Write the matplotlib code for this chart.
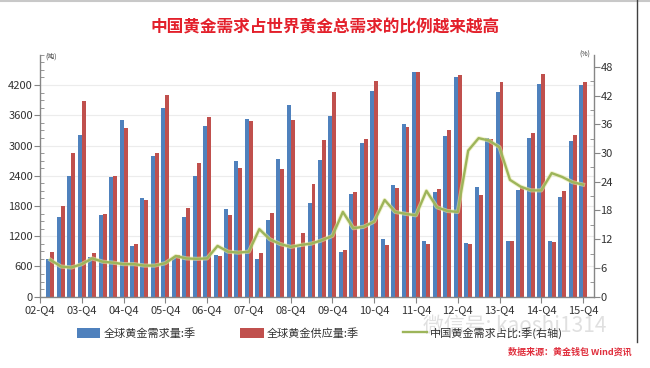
import matplotlib
matplotlib.use("Agg")
import matplotlib.pyplot as plt
import numpy as np
from matplotlib.lines import Line2D
from matplotlib.patches import Patch

plt.rcParams['font.family'] = ['Noto Sans CJK SC', 'DejaVu Sans']

# quarterly data 03Q1 .. 15Q4 (cumulative within each year)
demand = [750, 1590, 2400, 3210,
          780, 1620, 2380, 3500,
          1005, 1960, 2800, 3740,
          795, 1590, 2395, 3390,
          825, 1735, 2690, 3525,
          740, 1520, 2725, 3805,
          990, 1865, 2710, 3585,
          895, 2030, 3055, 4080,
          1145, 2215, 3425, 4465,
          1105, 2070, 3190, 4365,
          1060, 2180, 3145, 4065,
          1110, 2120, 3145, 4220,
          1105, 1985, 3095, 4200]
supply = [885, 1790, 2845, 3885,
          860, 1640, 2395, 3345,
          1045, 1920, 2850, 4000,
          825, 1755, 2645, 3570,
          810, 1620, 2560, 3490,
          860, 1665, 2535, 3505,
          1255, 2235, 3110, 4065,
          925, 2075, 3135, 4275,
          1025, 2165, 3360, 4465,
          1045, 2130, 3305, 4400,
          1045, 2020, 3130, 4255,
          1110, 2185, 3255, 4420,
          1085, 2105, 3210, 4255]
china_share = [7.7, 6.3, 6.1, 6.8,
               8.0, 7.3, 7.1, 6.8,
               6.8, 6.5, 6.5, 7.0,
               8.5, 8.0, 7.9, 8.0,
               10.6, 9.4, 9.2, 9.4,
               14.1, 12.0, 11.0, 10.4,
               10.8, 11.1, 11.8, 12.7,
               17.7, 14.3, 14.6, 15.7,
               20.2, 17.7, 17.3, 17.0,
               22.1, 18.7, 17.9, 17.7,
               30.5, 33.1, 32.6, 31.2,
               24.4, 23.0, 22.2, 22.2,
               25.8, 25.0, 23.9, 23.4]
year_labels = ['02-Q4', '03-Q4', '04-Q4', '05-Q4', '06-Q4', '07-Q4', '08-Q4',
               '09-Q4', '10-Q4', '11-Q4', '12-Q4', '13-Q4', '14-Q4', '15-Q4']

blue = '#4f81bd'
red = '#c0504d'
green = '#9db55a'
axis_gray = '#868686'

fig = plt.figure(figsize=(6.5, 3.68), dpi=100)
ax = fig.add_axes([40 / 650, 1 - 296.7 / 368, (593.5 - 40) / 650, (296.7 - 54.8) / 368])
ax2 = ax.twinx()

x = np.arange(len(demand))
w = 0.38
ax.bar(x - w / 2, demand, w, color=blue, zorder=2)
ax.bar(x + w / 2, supply, w, color=red, zorder=2)

# green line with a light yellow halo
ax2.plot(x, china_share, color='#e8e9a8', lw=3.0, alpha=0.6, solid_joinstyle='round', zorder=3)
ax2.plot(x, china_share, color=green, lw=1.7, solid_joinstyle='round', zorder=4)

ax.set_xlim(-1, 52)
ax.set_ylim(0, 4800)
ax2.set_ylim(0, 50.5)

ax.set_yticks(np.arange(0, 4201, 600))
ax.set_yticks(np.arange(0, 4801, 150), minor=True)
ax2.set_yticks(np.arange(0, 49, 6))
ax2.set_yticks(np.arange(0, 49, 3), minor=True)
ax.set_xticks(np.arange(-1, 52, 4))
ax.set_xticklabels(year_labels)

ax.grid(axis='y', color='#ececec', lw=0.8, zorder=0)
ax.set_axisbelow(True)

for a in (ax, ax2):
    a.spines['top'].set_visible(False)
    for s in ('left', 'right', 'bottom'):
        a.spines[s].set_color(axis_gray)
        a.spines[s].set_linewidth(1.0)
ax.spines['right'].set_visible(False)
ax2.spines['left'].set_visible(False)
ax2.spines['bottom'].set_visible(False)

ax.tick_params(axis='y', which='major', direction='out', length=4, color=axis_gray,
               labelsize=8, labelcolor='#333333', pad=1)
ax.tick_params(axis='y', which='minor', direction='in', length=3, color=axis_gray)
ax.tick_params(axis='x', direction='out', length=4, color=axis_gray,
               labelsize=8, labelcolor='#333333', pad=2)
ax2.tick_params(axis='y', which='major', direction='out', length=4, color=axis_gray,
                labelsize=8, labelcolor='#333333', pad=1)
ax2.tick_params(axis='y', which='minor', direction='in', length=3, color=axis_gray)

fig.text(45 / 650, 1 - 57 / 368, '(吨)', fontsize=5, color='#333333', va='center')
fig.text(590 / 650, 1 - 55 / 368, '(%)', fontsize=5, color='#333333', va='center', ha='right')

fig.text(0.5, 1 - 28 / 368, '中国黄金需求占世界黄金总需求的比例越来越高',
         ha='center', va='center', fontsize=12, fontweight='bold', color='#e3202b')

# faint watermark, partly behind the legend as in the source picture
fig.text(515 / 650, 1 - 326 / 368, '微信号: kaoshi1314', ha='center', va='center',
         fontsize=15, color='#e0e0e0', zorder=0)

handles = [Patch(facecolor=blue, edgecolor='none'),
           Patch(facecolor=red, edgecolor='none'),
           Line2D([], [], color=green, lw=1.7)]
labels = ['全球黄金需求量:季', '全球黄金供应量:季', '中国黄金需求占比:季(右轴)']
fig.legend(handles, labels, loc='center', bbox_to_anchor=(320 / 650, 1 - 333 / 368),
           ncol=3, frameon=False, fontsize=8, handlelength=2.1, handleheight=1.1,
           handletextpad=0.3, columnspacing=4.0, labelcolor='#333333')

fig.text(632 / 650, 1 - 352 / 368, '数据来源：黄金钱包 Wind资讯', ha='right', va='center',
         fontsize=6.5, fontweight='bold', color='#e0303e')

# frame lines of the original picture
fig.add_artist(Line2D([0, 1], [1 - 1 / 368, 1 - 1 / 368], color='#c8c8c8', lw=1.5))
fig.add_artist(Line2D([637 / 650, 637 / 650], [1, 1 - 342 / 368], color='#404040', lw=1.0))

fig.savefig('out.png', dpi=100)
